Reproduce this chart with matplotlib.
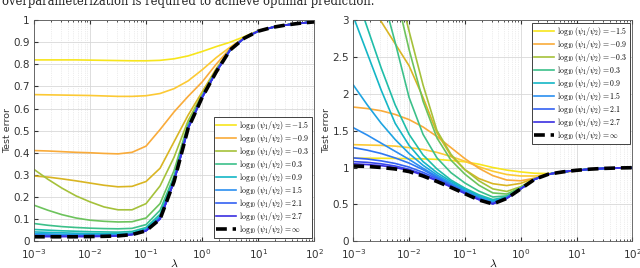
import numpy as np
import matplotlib.pyplot as plt
from matplotlib.ticker import LogLocator, NullFormatter, FixedLocator

plt.rcParams['mathtext.fontset'] = 'cm'
plt.rcParams['font.family'] = ['DejaVu Sans']

# lambda grid, quarter decades from 1e-3 to 1e2
lam_exp = [-3, -2.75, -2.5, -2.25, -2, -1.75, -1.5, -1.25, -1, -0.75, -0.5,
           -0.25, 0, 0.25, 0.5, 0.75, 1, 1.25, 1.5, 1.75, 2]
lam = 10.0 ** np.array(lam_exp)

# log10(psi1/psi2) for each coloured curve
ratios = [-1.5, -1.2, -0.9, -0.6, -0.3, 0.0, 0.3, 0.6, 0.9, 1.2, 1.5, 1.8, 2.1, 2.4, 2.7]
legend_ratios = [-1.5, -0.9, -0.3, 0.3, 0.9, 1.5, 2.1, 2.7]

colors = ['#f7e51c', '#fcc934', '#f9ab3a', '#d9b522', '#a5c13a', '#6cc35c',
          '#3cc08a', '#20bda8', '#14b6c6', '#1ea4e0', '#2b8ff0', '#2f78f2',
          '#3461f2', '#3848ea', '#3b2fe0']

# left panel: test error
err_left = [
    [0.82, 0.82, 0.82, 0.82, 0.819, 0.818, 0.817, 0.816, 0.816, 0.818, 0.825, 0.838, 0.858, 0.88, 0.90, 0.925, 0.952, 0.968, 0.979, 0.986, 0.992],
    [0.663, 0.662, 0.661, 0.66, 0.659, 0.657, 0.655, 0.655, 0.658, 0.668, 0.69, 0.725, 0.775, 0.83, 0.878, 0.921, 0.951, 0.967, 0.978, 0.986, 0.992],
    [0.41, 0.408, 0.405, 0.402, 0.40, 0.397, 0.395, 0.402, 0.43, 0.505, 0.585, 0.655, 0.72, 0.80, 0.872, 0.92, 0.95, 0.967, 0.978, 0.986, 0.992],
    [0.295, 0.29, 0.282, 0.273, 0.263, 0.253, 0.246, 0.248, 0.27, 0.33, 0.45, 0.57, 0.675, 0.78, 0.868, 0.919, 0.95, 0.967, 0.978, 0.986, 0.992],
    [0.325, 0.28, 0.24, 0.205, 0.178, 0.155, 0.142, 0.142, 0.17, 0.25, 0.38, 0.545, 0.665, 0.775, 0.867, 0.919, 0.95, 0.967, 0.978, 0.986, 0.992],
    [0.163, 0.14, 0.12, 0.105, 0.095, 0.09, 0.087, 0.088, 0.105, 0.17, 0.32, 0.53, 0.658, 0.772, 0.866, 0.918, 0.95, 0.967, 0.978, 0.986, 0.992],
    [0.08, 0.072, 0.066, 0.062, 0.059, 0.057, 0.056, 0.058, 0.075, 0.14, 0.295, 0.522, 0.654, 0.77, 0.866, 0.918, 0.95, 0.967, 0.978, 0.986, 0.992],
    [0.053, 0.05, 0.047, 0.045, 0.043, 0.042, 0.041, 0.044, 0.062, 0.122, 0.285, 0.518, 0.652, 0.768, 0.865, 0.918, 0.95, 0.967, 0.978, 0.986, 0.992],
    [0.042, 0.04, 0.038, 0.036, 0.035, 0.034, 0.034, 0.037, 0.056, 0.113, 0.279, 0.515, 0.651, 0.767, 0.865, 0.918, 0.95, 0.967, 0.978, 0.986, 0.992],
    [0.034, 0.033, 0.031, 0.03, 0.029, 0.029, 0.029, 0.033, 0.052, 0.108, 0.275, 0.513, 0.65, 0.766, 0.865, 0.918, 0.95, 0.967, 0.978, 0.986, 0.992],
    [0.029, 0.028, 0.027, 0.026, 0.026, 0.026, 0.027, 0.032, 0.05, 0.105, 0.273, 0.512, 0.65, 0.766, 0.865, 0.918, 0.95, 0.967, 0.978, 0.986, 0.992],
    [0.026, 0.025, 0.024, 0.024, 0.024, 0.024, 0.025, 0.031, 0.049, 0.103, 0.272, 0.511, 0.65, 0.765, 0.865, 0.918, 0.95, 0.967, 0.978, 0.986, 0.992],
    [0.024, 0.023, 0.023, 0.023, 0.023, 0.023, 0.025, 0.030, 0.048, 0.102, 0.271, 0.51, 0.65, 0.765, 0.865, 0.918, 0.95, 0.967, 0.978, 0.986, 0.992],
    [0.022, 0.022, 0.022, 0.022, 0.022, 0.023, 0.024, 0.030, 0.047, 0.101, 0.27, 0.51, 0.65, 0.765, 0.865, 0.918, 0.95, 0.967, 0.978, 0.986, 0.992],
    [0.021, 0.021, 0.021, 0.021, 0.021, 0.022, 0.024, 0.030, 0.047, 0.10, 0.27, 0.51, 0.65, 0.765, 0.865, 0.918, 0.95, 0.967, 0.978, 0.986, 0.992],
]
err_left_inf = [0.020, 0.020, 0.020, 0.020, 0.021, 0.022, 0.024, 0.030, 0.047, 0.10, 0.27, 0.51, 0.65, 0.765, 0.865, 0.918, 0.95, 0.967, 0.978, 0.986, 0.992]

# right panel: test error
err_right = [
    [1.127, 1.126, 1.125, 1.123, 1.12, 1.117, 1.11, 1.095, 1.077, 1.045, 1.0, 0.965, 0.94, 0.922, 0.918, 0.935, 0.958, 0.977, 0.988, 0.994, 0.997],
    [1.31, 1.305, 1.30, 1.29, 1.27, 1.245, 1.205, 1.15, 1.085, 1.01, 0.95, 0.905, 0.885, 0.885, 0.905, 0.935, 0.96, 0.977, 0.988, 0.994, 0.997],
    [1.82, 1.80, 1.77, 1.72, 1.65, 1.55, 1.42, 1.27, 1.12, 0.99, 0.89, 0.83, 0.82, 0.855, 0.905, 0.935, 0.96, 0.977, 0.988, 0.994, 0.997],
    [3.6, 3.3, 2.98, 2.68, 2.38, 1.95, 1.47, 1.16, 0.97, 0.85, 0.78, 0.755, 0.785, 0.855, 0.91, 0.94, 0.962, 0.978, 0.988, 0.994, 0.997],
    [8.5, 6.3, 4.7, 3.6, 2.85, 2.12, 1.5, 1.18, 0.97, 0.82, 0.71, 0.675, 0.74, 0.845, 0.91, 0.94, 0.962, 0.978, 0.988, 0.994, 0.997],
    [7.5, 5.6, 4.3, 3.4, 2.6, 1.9, 1.4, 1.1, 0.91, 0.76, 0.655, 0.64, 0.728, 0.843, 0.91, 0.94, 0.962, 0.978, 0.988, 0.994, 0.997],
    [5.5, 4.3, 3.4, 2.7, 1.95, 1.45, 1.13, 0.93, 0.79, 0.68, 0.60, 0.615, 0.72, 0.842, 0.91, 0.94, 0.962, 0.978, 0.988, 0.994, 0.997],
    [3.45, 2.9, 2.35, 1.85, 1.45, 1.17, 0.98, 0.83, 0.72, 0.63, 0.565, 0.60, 0.716, 0.84, 0.91, 0.94, 0.962, 0.978, 0.988, 0.994, 0.997],
    [3.05, 2.55, 2.05, 1.6, 1.3, 1.08, 0.93, 0.81, 0.705, 0.615, 0.55, 0.595, 0.714, 0.84, 0.91, 0.94, 0.962, 0.978, 0.988, 0.994, 0.997],
    [2.12, 1.85, 1.6, 1.38, 1.19, 1.03, 0.90, 0.79, 0.69, 0.60, 0.535, 0.59, 0.713, 0.84, 0.91, 0.94, 0.962, 0.978, 0.988, 0.994, 0.997],
    [1.54, 1.44, 1.33, 1.22, 1.11, 0.99, 0.88, 0.775, 0.675, 0.59, 0.525, 0.587, 0.712, 0.84, 0.91, 0.94, 0.962, 0.978, 0.988, 0.994, 0.997],
    [1.27, 1.235, 1.19, 1.13, 1.06, 0.97, 0.865, 0.765, 0.665, 0.58, 0.515, 0.585, 0.711, 0.84, 0.91, 0.94, 0.962, 0.978, 0.988, 0.994, 0.997],
    [1.13, 1.115, 1.09, 1.055, 1.005, 0.935, 0.85, 0.755, 0.658, 0.573, 0.51, 0.583, 0.711, 0.84, 0.91, 0.94, 0.962, 0.978, 0.988, 0.994, 0.997],
    [1.08, 1.07, 1.05, 1.02, 0.975, 0.91, 0.83, 0.742, 0.652, 0.567, 0.507, 0.582, 0.71, 0.84, 0.91, 0.94, 0.962, 0.978, 0.988, 0.994, 0.997],
    [1.05, 1.04, 1.025, 1.0, 0.96, 0.895, 0.82, 0.735, 0.648, 0.563, 0.506, 0.581, 0.71, 0.84, 0.91, 0.94, 0.962, 0.978, 0.988, 0.994, 0.997],
]
err_right_inf = [1.02, 1.015, 1.0, 0.98, 0.945, 0.885, 0.81, 0.73, 0.645, 0.56, 0.505, 0.58, 0.71, 0.84, 0.91, 0.94, 0.962, 0.978, 0.988, 0.994, 0.997]


def label(r):
    if r < 0:
        return r'$\log_{10}(\psi_1/\psi_2) = -%.1f$' % abs(r)
    return r'$\log_{10}(\psi_1/\psi_2) = %.1f$' % r


def panel(ax, curves, inf_curve, ylim, yticks, ylabels, legend_loc):
    handles = []
    for r, c, y in zip(ratios, colors, curves):
        ln, = ax.plot(lam, y, color=c, lw=1.2)
        if r in legend_ratios:
            ln.set_label(label(r))
            handles.append(ln)
    ln, = ax.plot(lam, inf_curve, color='black', lw=2.6, dashes=(3.0, 1.6),
                  label=r'$\log_{10}(\psi_1/\psi_2) = \infty$')
    handles.append(ln)

    ax.set_xscale('log')
    ax.set_xlim(1e-3, 1e2)
    ax.set_ylim(*ylim)
    ax.yaxis.set_major_locator(FixedLocator(yticks))
    ax.set_yticklabels(ylabels)
    ax.xaxis.set_major_locator(LogLocator(base=10, numticks=10))
    ax.xaxis.set_minor_locator(LogLocator(base=10, subs=np.arange(2, 10), numticks=20))
    ax.xaxis.set_minor_formatter(NullFormatter())
    ax.grid(True, which='major', color='#d8d8d8', lw=0.6)
    ax.grid(True, which='minor', axis='x', color='#dcdcdc', lw=0.5, ls=':')
    ax.tick_params(which='both', direction='in', top=True, right=False,
                   labelsize=7.5, colors='#333333')
    ax.tick_params(which='major', length=3)
    ax.tick_params(axis='x', which='major', pad=4)
    ax.tick_params(axis='y', which='major', pad=3)
    ax.tick_params(which='minor', length=1.5)
    for s in ax.spines.values():
        s.set_color('#555555')
        s.set_linewidth(0.6)
    ax.set_xlabel(r'$\lambda$', fontsize=8.5, labelpad=-3)
    ax.set_ylabel('Test error', fontsize=6.8, color='#333333', labelpad=1)
    leg = ax.legend(handles=handles, loc=legend_loc,
                    fontsize=5.6, handlelength=2.6, labelspacing=0.0,
                    borderpad=0.3, handletextpad=0.35, fancybox=False,
                    framealpha=1, edgecolor='#222222', borderaxespad=0.35)
    leg.get_frame().set_linewidth(0.6)


fig = plt.figure(figsize=(6.4, 2.68), dpi=100)
ax1 = fig.add_axes([0.053, 0.100, 0.438, 0.825])
ax2 = fig.add_axes([0.552, 0.100, 0.436, 0.825])

panel(ax1, err_left, err_left_inf, (0, 1),
      [0, 0.1, 0.2, 0.3, 0.4, 0.5, 0.6, 0.7, 0.8, 0.9, 1],
      ['0', '0.1', '0.2', '0.3', '0.4', '0.5', '0.6', '0.7', '0.8', '0.9', '1'],
      'lower right')
panel(ax2, err_right, err_right_inf, (0, 3),
      [0, 0.5, 1, 1.5, 2, 2.5, 3],
      ['0', '0.5', '1', '1.5', '2', '2.5', '3'],
      'upper right')

fig.text(0.003, 0.995, 'overparameterization is required to achieve optimal prediction.',
         fontsize=8.3, family='DejaVu Serif', va='center', ha='left', color='#222222')

fig.savefig('out.png', dpi=100)
